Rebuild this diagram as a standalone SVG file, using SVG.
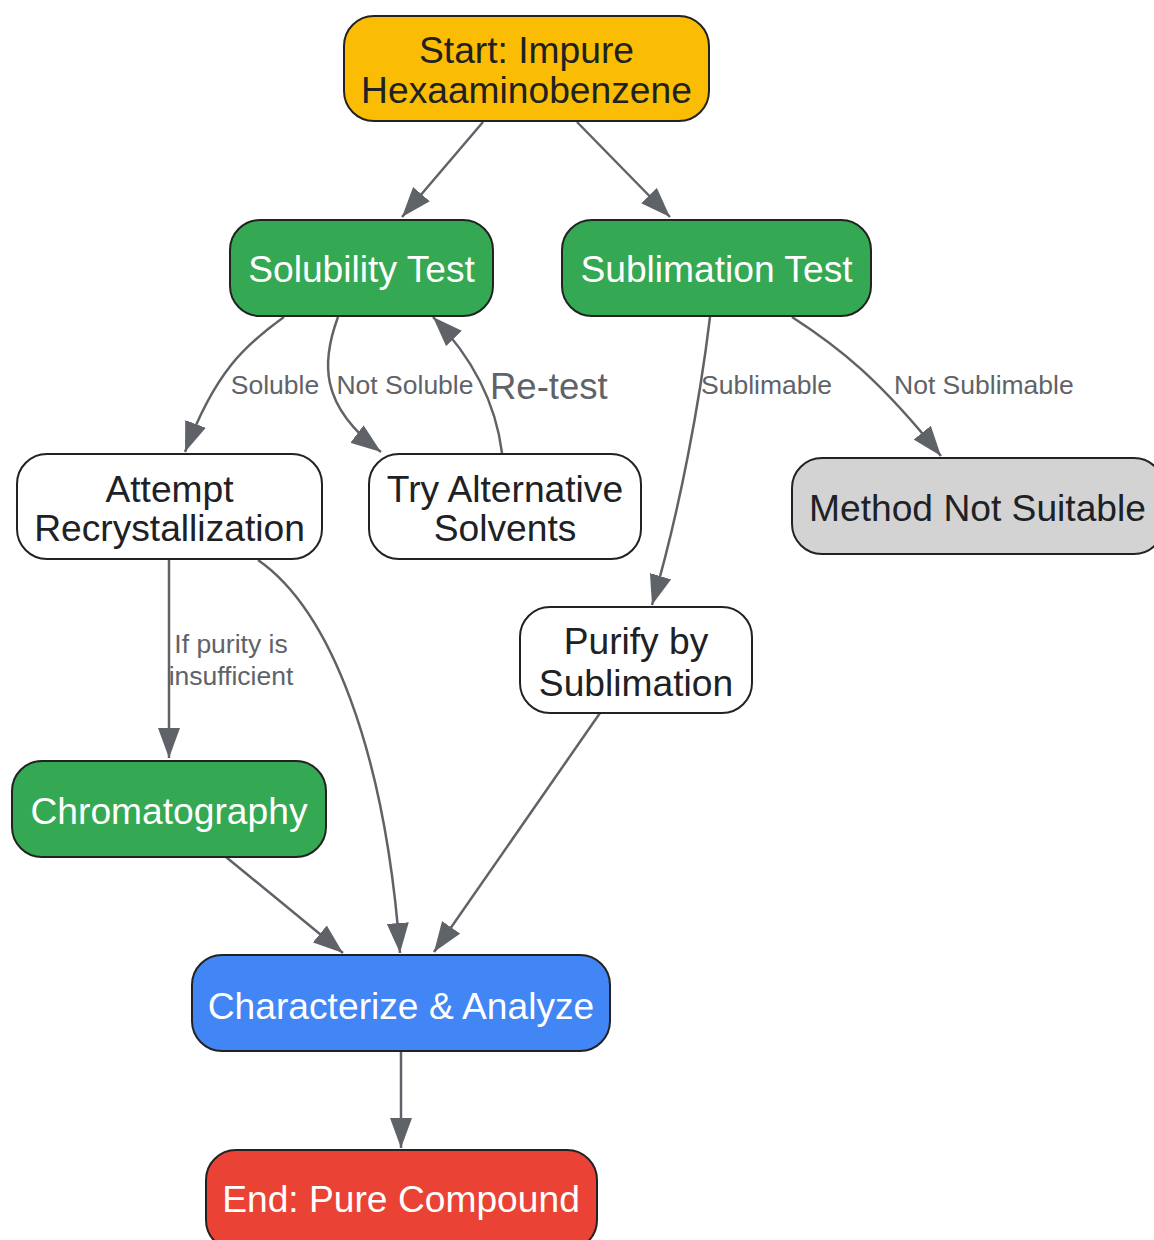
<svg xmlns="http://www.w3.org/2000/svg" width="1154" height="1240" viewBox="0 0 1154 1240">
<style>
  .node rect { stroke: #222222; stroke-width: 2; }
  .nt { font-family: "Liberation Sans", Arial, sans-serif; font-size: 37.2px; text-anchor: middle; }
  .dark { fill: #202124; }
  .light { fill: #ffffff; }
  .edge { fill: none; stroke: #5f6368; stroke-width: 2.5; }
  .el { font-family: "Liberation Sans", Arial, sans-serif; font-size: 26.5px; fill: #5f6368; }
  .elbig { font-family: "Liberation Sans", Arial, sans-serif; font-size: 36.5px; fill: #5f6368; }
</style>
<defs>
  <marker id="arrow" viewBox="0 0 30 22" refX="30" refY="11" markerWidth="30" markerHeight="22" markerUnits="userSpaceOnUse" orient="auto">
    <path d="M0,0 L30,11 L0,22 z" fill="#5f6368"/>
  </marker>
</defs>
<rect width="1154" height="1240" fill="#ffffff"/>

<g id="connectors">
  <path class="edge" marker-end="url(#arrow)" d="M483,122 L402,217"/>
  <path class="edge" marker-end="url(#arrow)" d="M577,122 L670,217"/>
  <path class="edge" marker-end="url(#arrow)" d="M284,317 C245,345 215,372 185,452"/>
  <path class="edge" marker-end="url(#arrow)" d="M338,317 C322,360 318,405 381,452"/>
  <path class="edge" marker-end="url(#arrow)" d="M502,453 C496,405 475,360 433,317"/>
  <path class="edge" marker-end="url(#arrow)" d="M710,317 C700,400 680,510 652,605"/>
  <path class="edge" marker-end="url(#arrow)" d="M792,317 C840,348 880,380 941,456"/>
  <path class="edge" marker-end="url(#arrow)" d="M169,560 L169,758"/>
  <path class="edge" marker-end="url(#arrow)" d="M258,560 C330,610 385,750 400,953"/>
  <path class="edge" marker-end="url(#arrow)" d="M226,857 L343,953"/>
  <path class="edge" marker-end="url(#arrow)" d="M600,713 L434,952"/>
  <path class="edge" marker-end="url(#arrow)" d="M401,1051 L401,1148"/>
  <text class="el" x="275" y="394" text-anchor="middle">Soluble</text>
  <text class="el" x="405" y="394" text-anchor="middle">Not Soluble</text>
  <text class="elbig" x="490" y="399">Re-test</text>
  <text class="el" x="701" y="394">Sublimable</text>
  <text class="el" x="894" y="394">Not Sublimable</text>
  <text class="el" x="231" y="653" text-anchor="middle">If purity is</text>
  <text class="el" x="231" y="685" text-anchor="middle">insufficient</text>
</g>

<g id="start" class="node">
  <rect x="344" y="16" width="365" height="105" rx="30" fill="#FBBC04"/>
  <text class="nt dark" x="526.5" y="62.5">Start: Impure</text>
  <text class="nt dark" x="526.5" y="103">Hexaaminobenzene</text>
</g>
<g id="solubility" class="node">
  <rect x="230" y="220" width="263" height="96" rx="30" fill="#34A853"/>
  <text class="nt light" x="361.5" y="282">Solubility Test</text>
</g>
<g id="sublimation" class="node">
  <rect x="562" y="220" width="309" height="96" rx="30" fill="#34A853"/>
  <text class="nt light" x="716.5" y="282">Sublimation Test</text>
</g>
<g id="recryst" class="node">
  <rect x="17" y="454" width="305" height="105" rx="30" fill="#ffffff"/>
  <text class="nt dark" x="169.5" y="501.5">Attempt</text>
  <text class="nt dark" x="169.5" y="541">Recrystallization</text>
</g>
<g id="altsolv" class="node">
  <rect x="369" y="454" width="272" height="105" rx="30" fill="#ffffff"/>
  <text class="nt dark" x="505" y="501.5">Try Alternative</text>
  <text class="nt dark" x="505" y="541">Solvents</text>
</g>
<g id="notsuitable" class="node">
  <rect x="792" y="458" width="372" height="96" rx="30" fill="#D3D3D3"/>
  <text class="nt dark" x="977.5" y="521">Method Not Suitable</text>
</g>
<g id="purify" class="node">
  <rect x="520" y="607" width="232" height="106" rx="30" fill="#ffffff"/>
  <text class="nt dark" x="636" y="653.5">Purify by</text>
  <text class="nt dark" x="636" y="695.5">Sublimation</text>
</g>
<g id="chromatography" class="node">
  <rect x="12" y="761" width="314" height="96" rx="30" fill="#34A853"/>
  <text class="nt light" x="169" y="823.5">Chromatography</text>
</g>
<g id="characterize" class="node">
  <rect x="192" y="955" width="418" height="96" rx="30" fill="#4285F4"/>
  <text class="nt light" x="401" y="1018.5">Characterize &amp; Analyze</text>
</g>
<g id="end" class="node">
  <rect x="206" y="1150" width="391" height="100" rx="30" fill="#EA4335"/>
  <text class="nt light" x="401" y="1211.5">End: Pure Compound</text>
</g>
</svg>
